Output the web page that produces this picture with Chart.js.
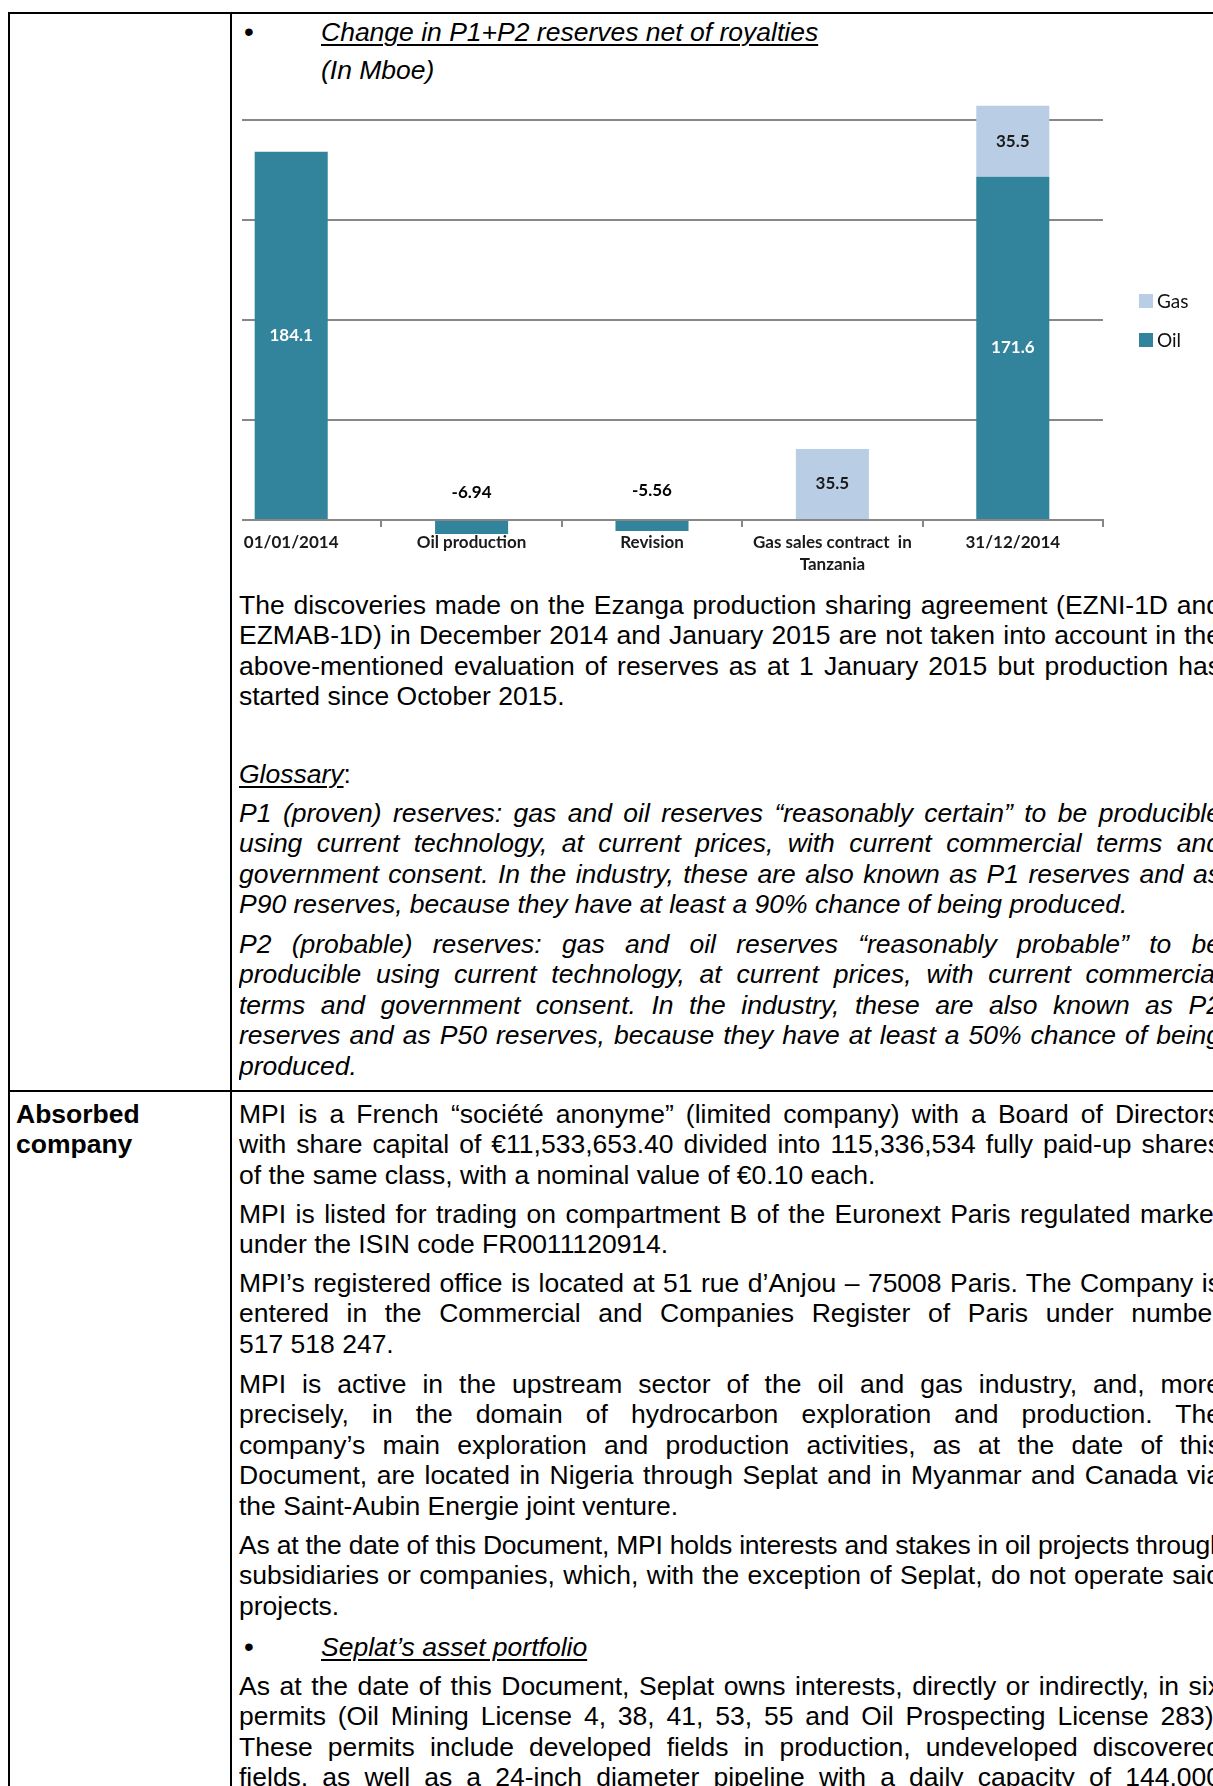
<!DOCTYPE html>
<html><head><meta charset="utf-8">
<script src="https://cdn.jsdelivr.net/npm/chart.js@4.4.1/dist/chart.umd.min.js"></script>
<style>
html,body{margin:0;padding:0;background:#fff;}
body{width:1213px;height:1786px;overflow:hidden;position:relative;font-family:"Liberation Sans",Arial,sans-serif;font-size:26.5px;color:#000;}
.b{position:absolute;background:#000;}
.p{position:absolute;left:239px;width:982px;line-height:30.6px;}
.p div{text-align:justify;text-align-last:justify;height:30.6px;overflow:hidden;}
.p div.l{text-align-last:left;}
.p div.nw{white-space:nowrap;overflow:visible;text-align-last:left;letter-spacing:-0.22px;}
.i{font-style:italic;}
.u{text-decoration:underline;text-decoration-thickness:1.5px;text-underline-offset:3px;}
.bul{position:absolute;left:244px;line-height:30.6px;font-size:28px;}
.bt{position:absolute;left:321px;line-height:30.6px;white-space:nowrap;}
.lab{position:absolute;left:16px;font-weight:bold;line-height:30.6px;}
#cw{position:absolute;left:242px;top:80px;width:971px;height:510px;overflow:hidden;}
#cv{position:absolute;left:-42px;top:0;}
</style>
</head><body>
<!-- table borders -->
<div class="b" style="left:8px;top:12px;width:1300px;height:2px"></div>
<div class="b" style="left:8px;top:12px;width:1.5px;height:1800px"></div>
<div class="b" style="left:229.5px;top:12px;width:2px;height:1800px"></div>
<div class="b" style="left:8px;top:1089.5px;width:1300px;height:2px"></div>

<div class="bul" style="top:16.7px">•</div>
<div class="bt i" style="top:16.7px"><span class="u">Change in P1+P2 reserves net of royalties</span></div>
<div class="bt i" style="top:55.3px">(In Mboe)</div>

<div id="cw"><canvas id="cv" width="1013" height="510"></canvas></div>

<div class="p" style="top:589.7px">
<div>The discoveries made on the Ezanga production sharing agreement (EZNI-1D and</div>
<div>EZMAB-1D) in December 2014 and January 2015 are not taken into account in the</div>
<div>above-mentioned evaluation of reserves as at 1 January 2015 but production has</div>
<div class="l">started since October 2015.</div>
</div>

<div class="p" style="top:758.7px"><div class="l"><span class="i u">Glossary</span>:</div></div>

<div class="p i" style="top:797.7px">
<div>P1 (proven) reserves: gas and oil reserves “reasonably certain” to be producible</div>
<div>using current technology, at current prices, with current commercial terms and</div>
<div>government consent. In the industry, these are also known as P1 reserves and as</div>
<div class="l">P90 reserves, because they have at least a 90% chance of being produced.</div>
</div>

<div class="p i" style="top:928.7px">
<div>P2 (probable) reserves: gas and oil reserves “reasonably probable” to be</div>
<div>producible using current technology, at current prices, with current commercial</div>
<div>terms and government consent. In the industry, these are also known as P2</div>
<div>reserves and as P50 reserves, because they have at least a 50% chance of being</div>
<div class="l">produced.</div>
</div>

<div class="lab" style="top:1098.7px">Absorbed<br>company</div>

<div class="p" style="top:1098.7px">
<div>MPI is a French “société anonyme” (limited company) with a Board of Directors</div>
<div>with share capital of €11,533,653.40 divided into 115,336,534 fully paid-up shares</div>
<div class="l">of the same class, with a nominal value of €0.10 each.</div>
</div>

<div class="p" style="top:1198.7px">
<div>MPI is listed for trading on compartment B of the Euronext Paris regulated market</div>
<div class="l">under the ISIN code FR0011120914.</div>
</div>

<div class="p" style="top:1267.7px">
<div>MPI’s registered office is located at 51 rue d’Anjou – 75008 Paris. The Company is</div>
<div>entered in the Commercial and Companies Register of Paris under number</div>
<div class="l">517 518 247.</div>
</div>

<div class="p" style="top:1368.7px">
<div>MPI is active in the upstream sector of the oil and gas industry, and, more</div>
<div>precisely, in the domain of hydrocarbon exploration and production. The</div>
<div>company’s main exploration and production activities, as at the date of this</div>
<div>Document, are located in Nigeria through Seplat and in Myanmar and Canada via</div>
<div class="l">the Saint-Aubin Energie joint venture.</div>
</div>

<div class="p" style="top:1529.7px">
<div class="nw">As at the date of this Document, MPI holds interests and stakes in oil projects through</div>
<div>subsidiaries or companies, which, with the exception of Seplat, do not operate said</div>
<div class="l">projects.</div>
</div>

<div class="bul" style="top:1631.7px">•</div>
<div class="bt i" style="top:1631.7px"><span class="u">Seplat’s asset portfolio</span></div>

<div class="p" style="top:1670.7px">
<div>As at the date of this Document, Seplat owns interests, directly or indirectly, in six</div>
<div>permits (Oil Mining License 4, 38, 41, 53, 55 and Oil Prospecting License 283).</div>
<div>These permits include developed fields in production, undeveloped discovered</div>
<div>fields, as well as a 24-inch diameter pipeline with a daily capacity of 144,000</div>
</div>

<script>
// ---- data ----
const categories = ['01/01/2014', 'Oil production', 'Revision', ['Gas sales contract  in', 'Tanzania'], '31/12/2014'];
const oilValues = [184.1, -6.94, -5.56, null, 171.6];
const gasValues = [null, null, null, 35.5, 35.5];
const yTickValues = [0, 50, 100, 150, 200];
const seriesNames = ['Oil', 'Gas'];

// ---- styles ----
const OIL_COLOR = '#31849B';
const GAS_COLOR = '#B9CDE5';
const GRID = '#878787';
const CHART_FONT = 'Lato, "Open Sans", sans-serif';

const valueLabels = {
  id: 'valueLabels',
  afterDatasetsDraw(chart) {
    const ctx = chart.ctx;
    ctx.save();
    ctx.font = 'bold 17px ' + CHART_FONT;
    ctx.textAlign = 'center';
    ctx.textBaseline = 'middle';
    chart.data.datasets.forEach((ds, i) => {
      const meta = chart.getDatasetMeta(i);
      meta.data.forEach((bar, j) => {
        const v = ds.data[j];
        if (v === null || v === undefined) return;
        const p = bar.getProps(['x', 'y', 'base'], true);
        let cy, color;
        if (v >= 0) { cy = (p.y + p.base) / 2; color = ds.valueColor; }
        else { cy = p.y - 41; color = '#000'; }
        ctx.fillStyle = color;
        ctx.fillText(String(v), p.x, cy);
      });
    });
    ctx.restore();
  }
};

const sideLegend = {
  id: 'sideLegend',
  afterDraw(chart) {
    const ctx = chart.ctx;
    const order = chart.data.datasets.slice().reverse();
    ctx.save();
    ctx.font = '19px ' + CHART_FONT;
    ctx.textBaseline = 'middle';
    ctx.textAlign = 'left';
    order.forEach((ds, k) => {
      const cy = 221 + k * 39;
      ctx.fillStyle = ds.backgroundColor;
      ctx.fillRect(939, cy - 7, 14, 14);
      ctx.fillStyle = '#111';
      ctx.fillText(ds.label, 957, cy + 1);
    });
    ctx.restore();
  }
};

function build() {
  new Chart(document.getElementById('cv'), {
    type: 'bar',
    data: {
      labels: categories,
      datasets: [
        { label: seriesNames[0], data: oilValues, backgroundColor: OIL_COLOR, valueColor: '#ffffff',
          categoryPercentage: 1, barPercentage: 0.405 },
        { label: seriesNames[1], data: gasValues, backgroundColor: GAS_COLOR, valueColor: '#1a1a1a',
          categoryPercentage: 1, barPercentage: 0.405 }
      ]
    },
    options: {
      responsive: false,
      animation: false,
      devicePixelRatio: 1,
      layout: { padding: { left: 1, right: 110, top: 20, bottom: 50 } },
      plugins: { legend: { display: false }, tooltip: { enabled: false } },
      scales: {
        x: {
          stacked: true,
          position: { y: 0 },
          grid: { display: true, drawOnChartArea: false, offset: true, tickLength: 6, color: GRID, lineWidth: 2 },
          border: { display: true, color: GRID, width: 2 },
          ticks: { color: '#1a1a1a', padding: 5, maxRotation: 0, autoSkip: false,
                   font: { family: CHART_FONT, size: 17, weight: 'bold', lineHeight: 1.32 } }
        },
        y: {
          stacked: true,
          min: -10, max: 210,
          afterBuildTicks: (axis) => { axis.ticks = yTickValues.map(v => ({ value: v })); },
          grid: { color: GRID, lineWidth: 2, drawTicks: false },
          border: { display: false },
          ticks: { display: false }
        }
      }
    },
    plugins: [valueLabels, sideLegend]
  });
}

if (document.fonts && document.fonts.load) {
  Promise.all([document.fonts.load('bold 17px Lato'), document.fonts.load('19px Lato')]).then(build, build);
} else { build(); }
</script>
</body></html>
